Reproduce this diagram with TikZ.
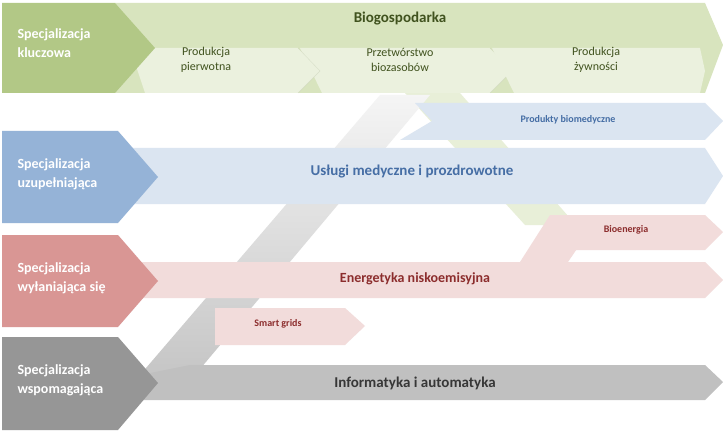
\documentclass[tikz,border=0pt]{standalone}
\usepackage{fontspec}
\setmainfont{Carlito}
\definecolor{grHead}{RGB}{178,200,134}
\definecolor{grBand}{RGB}{216,228,190}
\definecolor{grSub}{RGB}{235,241,222}
\definecolor{grText}{RGB}{64,82,30}
\definecolor{blHead}{RGB}{149,179,215}
\definecolor{blBand}{RGB}{219,229,241}
\definecolor{blText}{RGB}{70,110,165}
\definecolor{rdHead}{RGB}{217,150,148}
\definecolor{rdBand}{RGB}{242,220,219}
\definecolor{rdText}{RGB}{140,45,45}
\definecolor{gyHead}{RGB}{150,150,150}
\definecolor{gyBand}{RGB}{192,192,192}
\definecolor{gyText}{RGB}{55,55,55}
\begin{document}
\begin{tikzpicture}[x=1pt,y=-1pt,
    headtext/.style={white,font=\fontsize{14}{19}\selectfont\bfseries,align=left,anchor=west},
    bandtext/.style={font=\fontsize{15}{18}\selectfont\bfseries},
    subtext/.style={font=\fontsize{12}{15}\selectfont,align=center},
    smalltext/.style={font=\fontsize{10}{12}\selectfont\bfseries}]
    \fill[white] (0,0) rectangle (723,433);
    % diagonals behind
    \fill[grBand!60] (405,93) -- (460,93) -- (576,225) -- (525,225) -- cycle;
    \shade[top color=gray!8,bottom color=gray!45] (380,95) -- (430,95) -- (195,375) -- (140,375) -- cycle;
    \fill[rdBand] (520,262) -- (568,262) -- (600,215) -- (550,215) -- cycle;
    % green row
    \fill[grBand] (115,3) -- (705,3) -- (723,45) -- (705,93) -- (115,93) -- cycle;
    \fill[grSub] (130,48) -- (298,48) -- (320,71) -- (298,93) -- (145,93) -- cycle;
    \fill[grSub] (300,48) -- (490,48) -- (512,71) -- (490,93) -- (322,93) -- (300,48) -- cycle;
    \draw[grBand!80!black,opacity=.3] (298,48) -- (320,71) -- (298,93) (490,48) -- (512,71) -- (490,93);
    \fill[grSub] (492,48) -- (700,48) -- (705,71) -- (700,93) -- (514,93) -- cycle;
    \fill[grHead] (2,3) -- (115,3) -- (155,48) -- (115,93) -- (2,93) -- cycle;
    \node[headtext] (kluczowa) at (14,43) {Specjalizacja\\kluczowa};
    \node[bandtext,grText] (bio) at (400,19) {Biogospodarka};
    \node[subtext,grText] (pierwotna) at (206,60) {Produkcja\\pierwotna};
    \node[subtext,grText] (przetworstwo) at (400,60) {Przetwórstwo\\biozasobów};
    \node[subtext,grText] (zywnosc) at (596,60) {Produkcja\\żywności};
    % blue row
    \fill[blBand] (415,103) -- (705,103) -- (723,121) -- (705,140) -- (400,140) -- (432,121) -- cycle;
    \fill[blBand] (118,148) -- (705,148) -- (723,176) -- (705,204) -- (118,204) -- cycle;
    \fill[blHead] (2,131) -- (118,131) -- (158,177) -- (118,223) -- (2,223) -- cycle;
    \node[headtext] (uzupelniajaca) at (14,174) {Specjalizacja\\uzupełniająca};
    \node[smalltext,blText] (biomed) at (568,120) {Produkty biomedyczne};
    \node[bandtext,blText] (medyczne) at (412,172) {Usługi medyczne i prozdrowotne};
    % red row
    \fill[rdBand] (560,215) -- (705,215) -- (723,232) -- (705,250) -- (545,250) -- cycle;
    \fill[rdBand] (118,262) -- (705,262) -- (723,280) -- (705,298) -- (118,298) -- cycle;
    \fill[rdBand] (215,308) -- (345,308) -- (365,326) -- (345,345) -- (215,345) -- cycle;
    \fill[rdHead] (2,235) -- (118,235) -- (158,281) -- (118,327) -- (2,327) -- cycle;
    \node[headtext] (wylaniajaca) at (14,278) {Specjalizacja\\wyłaniająca się};
    \node[smalltext,rdText] (bioenergia) at (626,230) {Bioenergia};
    \node[font=\fontsize{14}{17}\selectfont\bfseries,rdText] (energetyka) at (415,279) {Energetyka niskoemisyjna};
    \node[smalltext,rdText] (smart) at (278,324) {Smart grids};
    % grey row
    \fill[gyBand] (190,365) -- (705,365) -- (723,382) -- (705,400) -- (118,400) -- (140,375) -- cycle;
    \fill[gyHead] (2,337) -- (118,337) -- (158,383) -- (118,430) -- (2,430) -- cycle;
    \node[headtext] (wspomagajaca) at (14,380) {Specjalizacja\\wspomagająca};
    \node[bandtext,gyText] (informatyka) at (415,383) {Informatyka i automatyka};
\end{tikzpicture}
\end{document}
